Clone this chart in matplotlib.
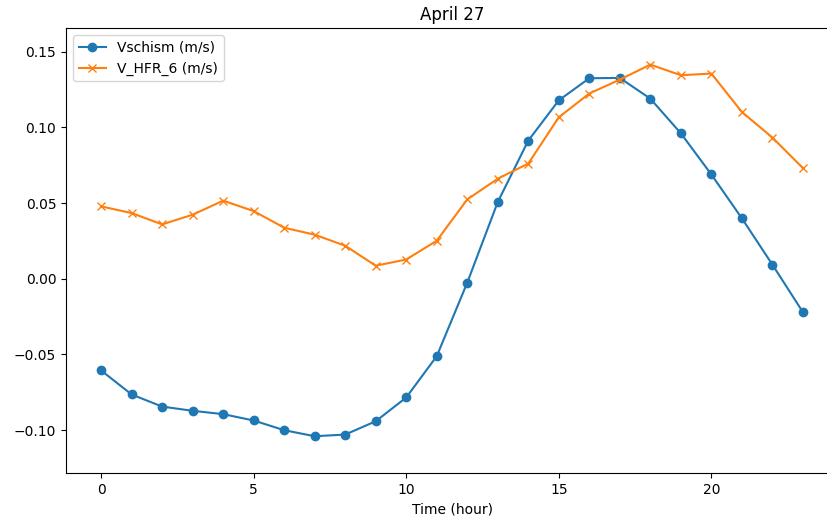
import numpy as np
import matplotlib
matplotlib.use("Agg")
import matplotlib.pyplot as plt

# Hours of the day
hours = np.arange(24)

# Velocities (m/s)
v_schism = [-0.0606, -0.0765, -0.0845, -0.0873, -0.0895, -0.0937, -0.1001, -0.1041,
            -0.1030, -0.0942, -0.0785, -0.0512, -0.0026, 0.0507, 0.0913, 0.1179,
            0.1325, 0.1327, 0.1190, 0.0961, 0.0689, 0.0399, 0.0093, -0.0221]
v_hfr_6 = [0.0478, 0.0434, 0.0359, 0.0423, 0.0516, 0.0447, 0.0337, 0.0291,
           0.0218, 0.0086, 0.0127, 0.0251, 0.0524, 0.0661, 0.0761, 0.1067,
           0.1224, 0.1316, 0.1415, 0.1345, 0.1356, 0.1102, 0.0933, 0.0731]

fig = plt.figure(figsize=(8.27, 5.17), dpi=100)
# axes run a bit past the right edge, the reference is cropped there
ax = fig.add_axes([66/827, 1 - 473/517, (838 - 66)/827, (473 - 28)/517])

ax.plot(hours, v_schism, marker="o", label="Vschism (m/s)")
ax.plot(hours, v_hfr_6, marker="x", label="V_HFR_6 (m/s)")

ax.set_xlim(-1.15, 24.15)
ax.set_ylim(-0.1284, 0.1657)
ax.set_xlabel("Time (hour)")
ax.set_title("April 27")
ax.legend(loc="upper left")

fig.savefig("out.png", dpi=100)
